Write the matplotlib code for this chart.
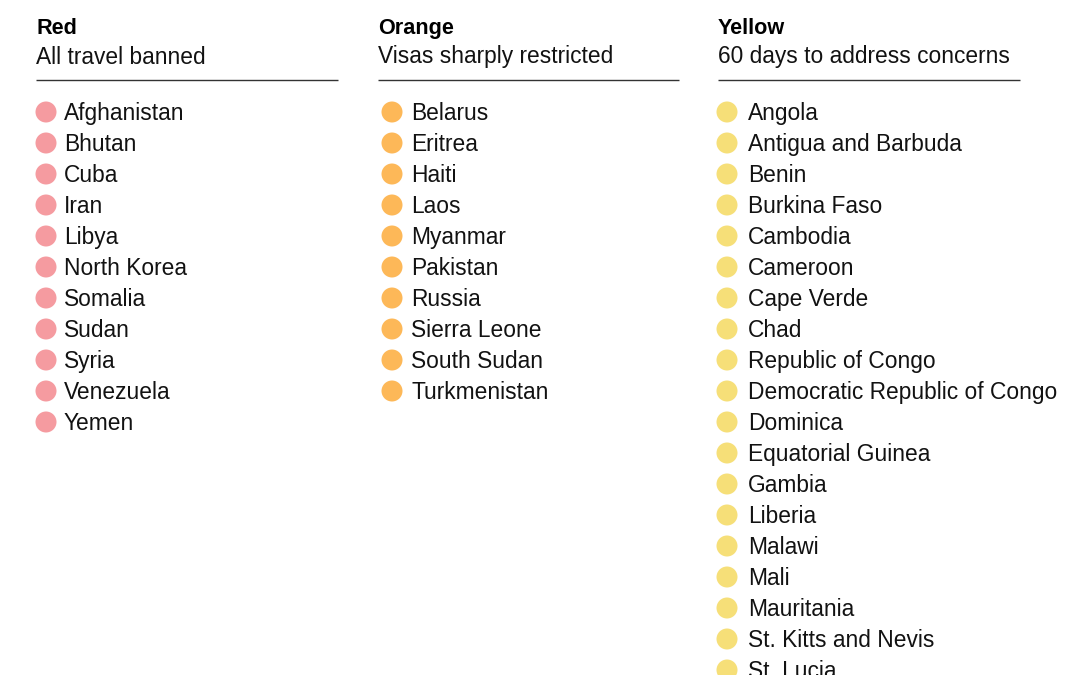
"""
Travel ban tiers as three lists of countries with colored dots.
"""

import matplotlib
matplotlib.use("Agg")
import matplotlib.pyplot as plt
from matplotlib.patches import Circle

RED_COUNTRIES = ["Afghanistan", "Bhutan", "Cuba", "Iran", "Libya", "North Korea",
                 "Somalia", "Sudan", "Syria", "Venezuela", "Yemen"]
ORANGE_COUNTRIES = ["Belarus", "Eritrea", "Haiti", "Laos", "Myanmar", "Pakistan",
                    "Russia", "Sierra Leone", "South Sudan", "Turkmenistan"]
YELLOW_COUNTRIES = ["Angola", "Antigua and Barbuda", "Benin", "Burkina Faso", "Cambodia",
                    "Cameroon", "Cape Verde", "Chad", "Republic of Congo",
                    "Democratic Republic of Congo", "Dominica", "Equatorial Guinea",
                    "Gambia", "Liberia", "Malawi", "Mali", "Mauritania",
                    "St. Kitts and Nevis", "St. Lucia"]

TIER_NAMES = ["Red", "Orange", "Yellow"]
TIER_NOTES = ["All travel banned", "Visas sharply restricted", "60 days to address concerns"]
TIER_COLORS = ["#f59ba0", "#fdb858", "#f6df78"]

W, H = 1080, 675
FONT = ["Liberation Sans", "DejaVu Sans"]

fig = plt.figure(figsize=(W / 100, H / 100), dpi=100)
ax = fig.add_axes([0, 0, 1, 1])
ax.set_xlim(0, W)
ax.set_ylim(H, 0)
ax.axis("off")

columns = [
    (RED_COUNTRIES, 36, 46, 64, 338),
    (ORANGE_COUNTRIES, 378, 392, 411, 679),
    (YELLOW_COUNTRIES, 718, 727, 748, 1020),
]

for i, (countries, head_x, dot_x, text_x, rule_end) in enumerate(columns):
    # baseline alignment keeps rows steady whatever the descenders
    ax.text(head_x, 34, TIER_NAMES[i], fontsize=15.6, fontweight="bold", family=FONT,
            va="baseline", color="#000000")
    ax.text(head_x, 63.5, TIER_NOTES[i], fontsize=16.4, family=FONT, va="baseline", color="#121212")
    ax.plot([head_x, rule_end], [80, 80], color="#333333", lw=1, solid_capstyle="butt")
    for j, name in enumerate(countries):
        y = 112 + j * 31
        ax.add_patch(Circle((dot_x, y), 10.5, color=TIER_COLORS[i], lw=0))
        ax.text(text_x, y + 7.7, name, fontsize=16.4, family=FONT, va="baseline", color="#121212")

fig.savefig("out.png", dpi=100)
